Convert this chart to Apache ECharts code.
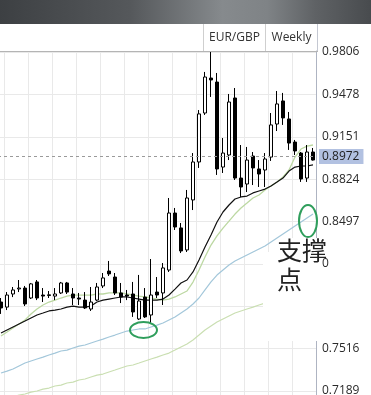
<!DOCTYPE html>
<html><head><meta charset="utf-8">
<script src="https://cdn.jsdelivr.net/npm/echarts@6/dist/echarts.min.js"></script>
<style>html,body{margin:0;padding:0;background:#fff;overflow:hidden}#c{width:371px;height:395px}</style>
</head><body><div id="c"></div><script>
// ---- data ----
const categories = Array.from({length: 53}, (_, i) => 'W' + (i + 1));
// [open, close, low, high]
const candles = [
 [0.7876,0.7830,0.7784,0.7907],[0.7837,0.7930,0.7814,0.7953],[0.7938,0.7969,0.7914,0.7992],[0.7977,0.7984,0.7953,0.8046],
 [0.7984,0.7861,0.7845,0.8000],[0.7907,0.8016,0.7899,0.8023],[0.8031,0.7907,0.7891,0.8046],[0.7930,0.7922,0.7876,0.7984],
 [0.7926,0.7932,0.7907,0.7961],[0.7922,0.7938,0.7891,0.7984],[0.7946,0.8023,0.7938,0.8031],[0.8023,0.7953,0.7938,0.8031],
 [0.7938,0.7907,0.7853,0.7984],[0.7907,0.7899,0.7853,0.7946],[0.7891,0.7830,0.7822,0.7953],[0.7822,0.7876,0.7807,0.7992],
 [0.7891,0.7992,0.7884,0.8023],[0.8000,0.8062,0.7984,0.8100],[0.8115,0.8093,0.8077,0.8193],[0.8069,0.7946,0.7930,0.8100],
 [0.7946,0.7914,0.7868,0.8023],[0.7930,0.7922,0.7891,0.7969],[0.7938,0.7799,0.7761,0.8031],[0.7745,0.7884,0.7737,0.8085],
 [0.7914,0.7761,0.7753,0.7984],[0.7776,0.7930,0.7714,0.8208],[0.7953,0.7930,0.7907,0.8069],[0.7946,0.8139,0.7853,0.8177],
 [0.8123,0.8563,0.8108,0.8679],[0.8563,0.8455,0.8432,0.8602],[0.8448,0.8270,0.8254,0.8486],[0.8278,0.8679,0.8262,0.8741],
 [0.8664,0.8957,0.8586,0.9026],[0.8957,0.9328,0.8911,0.9358],[0.9335,0.9613,0.9320,0.9652],[0.9605,0.9590,0.9459,0.9812],
 [0.9574,0.8903,0.8857,0.9644],[0.8918,0.9026,0.8872,0.9142],[0.9011,0.9420,0.8972,0.9482],[0.9451,0.8833,0.8818,0.9528],
 [0.8833,0.8764,0.8687,0.9088],[0.8787,0.8972,0.8725,0.9073],[0.9003,0.8911,0.8779,0.9034],[0.8903,0.8864,0.8764,0.8972],
 [0.8895,0.8980,0.8764,0.9026],[0.8995,0.9243,0.8965,0.9335],[0.9250,0.9405,0.9196,0.9505],[0.9428,0.9297,0.9243,0.9490],
 [0.9289,0.9103,0.9050,0.9343],[0.9111,0.9042,0.9011,0.9127],[0.9026,0.8826,0.8803,0.9034],[0.8833,0.9034,0.8803,0.9088],
 [0.9034,0.8972,0.8968,0.9065]
];
const maBlack = [0.7637,0.7660,0.7683,0.7706,0.7729,0.7753,0.7776,0.7791,0.7807,0.7814,0.7822,0.7837,0.7845,0.7837,0.7837,0.7845,
 0.7876,0.7891,0.7899,0.7907,0.7915,0.7915,0.7907,0.7899,0.7891,0.7891,0.7891,0.7899,0.7930,0.7976,0.8023,0.8046,
 0.8108,0.8200,0.8301,0.8393,0.8494,0.8571,0.8625,0.8671,0.8687,0.8694,0.8718,0.8733,0.8748,0.8772,0.8802,0.8833,
 0.8887,0.8918,0.8926,0.8926,0.8934];
const maGreen = [0.7614,0.7644,0.7675,0.7706,0.7737,0.7783,0.7822,0.7853,0.7876,0.7891,0.7907,0.7922,0.7930,0.7930,0.7930,0.7930,
 0.7938,0.7938,0.7946,0.7946,0.7946,0.7938,0.7930,0.7922,0.7915,0.7907,0.7899,0.7891,0.7899,0.7915,0.7938,0.7961,
 0.8030,0.8123,0.8223,0.8316,0.8386,0.8447,0.8501,0.8555,0.8602,0.8640,0.8679,0.8702,0.8741,0.8772,0.8802,0.8841,
 0.8895,0.8995,0.9057,0.9080,0.9088];
const maBlue = [0.7328,0.7343,0.7359,0.7382,0.7405,0.7421,0.7436,0.7451,0.7467,0.7482,0.7498,0.7505,0.7521,0.7536,0.7544,0.7560,
 0.7575,0.7590,0.7606,0.7621,0.7637,0.7652,0.7660,0.7668,0.7668,0.7683,0.7698,0.7714,0.7737,0.7760,0.7791,0.7822,
 0.7861,0.7907,0.7969,0.8031,0.8084,0.8123,0.8162,0.8193,0.8216,0.8239,0.8262,0.8285,0.8308,0.8339,0.8370,0.8401,
 0.8432,0.8463,0.8494,0.8525,0.8555];
const maPale = [0.7119,0.7135,0.7143,0.7158,0.7166,0.7181,0.7189,0.7204,0.7212,0.7228,0.7235,0.7251,0.7258,0.7274,0.7282,0.7297,
 0.7312,0.7320,0.7336,0.7351,0.7367,0.7382,0.7390,0.7405,0.7421,0.7436,0.7451,0.7467,0.7482,0.7505,0.7529,0.7552,
 0.7583,0.7621,0.7660,0.7691,0.7722,0.7745,0.7768,0.7791,0.7807,0.7822,0.7837,0.7853,0.7868,0.7884,0.7899,0.7915,
 0.7930,0.7946,0.7961,0.7977,0.7992];
const yTickValues = [0.7189, 0.7516, 0.7843, 0.8170, 0.8497, 0.8824, 0.9151, 0.9478, 0.9806];
const yTickLabels = ['0.7189', '0.7516', '', '0', '0.8497', '0.8824', '0.9151', '0.9478', '0.9806'];
const headerLabels = ['EUR/GBP', 'Weekly'];
const annotationText = '支撑\n点';
const lastPrice = candles[candles.length - 1][1];
// support marks: [category index, value]
const support1 = [24, 0.7660];
const support2 = [51, 0.8501];

// ---- chart ----
const yStep = (yTickValues[8] - yTickValues[0]) / 8;
const yMin = yTickValues[0] - yStep;
const yMax = yTickValues[8] + 0.00077;
const FONT = 'Open Sans';
function fmt(v) {
  for (let i = 0; i < yTickValues.length; i++) if (Math.abs(v - yTickValues[i]) < 0.0002) return yTickLabels[i];
  return '';
}
const chart = echarts.init(document.getElementById('c'), null, {renderer: 'canvas'});
const option = {
  animation: false,
  backgroundColor: '#ffffff',
  grid: {left: -2, right: 55, top: 51, bottom: -38.4, containLabel: false, outerBoundsMode: 'none'},
  xAxis: {
    type: 'category', data: categories, boundaryGap: true,
    axisLine: {show: false}, axisTick: {show: false}, axisLabel: {show: false},
    splitLine: {show: true, interval: (i) => i % 4 === 1, lineStyle: {color: '#e9e9e9', width: 1}}
  },
  yAxis: [{
    type: 'value', position: 'right', min: yMin, max: yMax, interval: yStep, scale: true, z: 0,
    axisLine: {show: true, lineStyle: {color: '#aeb4c2', width: 1}},
    axisTick: {show: false}, axisLabel: {show: false},
    splitLine: {show: true, lineStyle: {color: '#e9e9e9', width: 1}}
  }, {
    type: 'value', position: 'right', min: yMin, max: yMax, interval: yStep, scale: true, z: 10,
    axisLine: {show: false}, axisTick: {show: false}, splitLine: {show: false},
    axisLabel: {show: true, margin: 6, color: '#2a2a2a', fontFamily: FONT, fontSize: 12, formatter: fmt}
  }],
  series: [
    {type: 'line', data: maPale, symbol: 'none', lineStyle: {color: '#cadfb2', width: 1.2}, z: 1, silent: true},
    {type: 'line', data: maBlue, symbol: 'none', lineStyle: {color: '#a3c7da', width: 1.2}, z: 1, silent: true},
    {type: 'line', data: maGreen, symbol: 'none', lineStyle: {color: '#bcd8a2', width: 1.3}, z: 1, silent: true},
    {type: 'line', data: maBlack, symbol: 'none', lineStyle: {color: '#111111', width: 1.2}, z: 1, silent: true},
    {
      type: 'candlestick', data: candles, barWidth: 4, z: 3,
      itemStyle: {color: '#ffffff', color0: '#000000', borderColor: '#000000', borderColor0: '#000000', borderWidth: 1},
      markLine: {
        silent: true, symbol: ['none', 'none'],
        lineStyle: {color: '#9a9a9a', type: [3, 3], width: 1},
        label: {show: true, position: 'end', distance: 3, formatter: () => lastPrice.toFixed(4),
          backgroundColor: '#b2c1e1', color: '#1e1e1e', fontFamily: FONT, fontSize: 12, padding: [2, 4, 1, 3]},
        data: [{yAxis: lastPrice}]
      }
    }
  ]
};
chart.setOption(option);

const p1 = chart.convertToPixel({xAxisIndex: 0, yAxisIndex: 0}, support1);
const p2 = chart.convertToPixel({xAxisIndex: 0, yAxisIndex: 0}, support2);
chart.setOption({graphic: [
  {type: 'polygon', z: 5, silent: true,
   shape: {points: [[263, 252], [290, 252], [290, 238], [371, 238], [371, 341], [263, 341]]},
   style: {fill: '#ffffff'}},
  {type: 'rect', z: 20, shape: {x: 0, y: 0, width: 371, height: 24},
   style: {fill: new echarts.graphic.LinearGradient(0, 0, 1, 0, [
     {offset: 0, color: '#3d4043'}, {offset: 0.35, color: '#55585b'}, {offset: 0.6, color: '#868a8d'},
     {offset: 0.72, color: '#7f8386'}, {offset: 0.85, color: '#5f6265'}, {offset: 1, color: '#484b4e'}])}},
  {type: 'line', z: 20, shape: {x1: 0, y1: 51.5, x2: 318, y2: 51.5}, style: {stroke: '#b4b4b4', lineWidth: 1}},
  {type: 'line', z: 20, shape: {x1: 203.5, y1: 24, x2: 203.5, y2: 51}, style: {stroke: '#cfcfcf', lineWidth: 1}},
  {type: 'line', z: 20, shape: {x1: 265.5, y1: 24, x2: 265.5, y2: 51}, style: {stroke: '#cfcfcf', lineWidth: 1}},
  {type: 'line', z: 20, shape: {x1: 317.5, y1: 24, x2: 317.5, y2: 51}, style: {stroke: '#c4c8d2', lineWidth: 1}},
  {type: 'text', z: 21, style: {text: headerLabels[0], x: 234.5, y: 38, align: 'center', verticalAlign: 'middle',
   fill: '#333333', font: '12px "' + FONT + '"'}},
  {type: 'text', z: 21, style: {text: headerLabels[1], x: 291.5, y: 38, align: 'center', verticalAlign: 'middle',
   fill: '#333333', font: '12px "' + FONT + '"'}},
  {type: 'ellipse', z: 22, silent: true, shape: {cx: p1[0] - 1.5, cy: p1[1], rx: 13.5, ry: 8},
   style: {fill: 'none', stroke: '#2f9e5c', lineWidth: 2}},
  {type: 'ellipse', z: 22, silent: true, shape: {cx: p2[0] + 1, cy: p2[1], rx: 9, ry: 16},
   style: {fill: 'none', stroke: '#2f9e5c', lineWidth: 2}},
  {type: 'text', z: 22, style: {text: annotationText, x: 277, y: 236, fill: '#222222',
   font: '25px "Noto Sans CJK SC"', lineHeight: 29}}
]});
</script></body></html>
